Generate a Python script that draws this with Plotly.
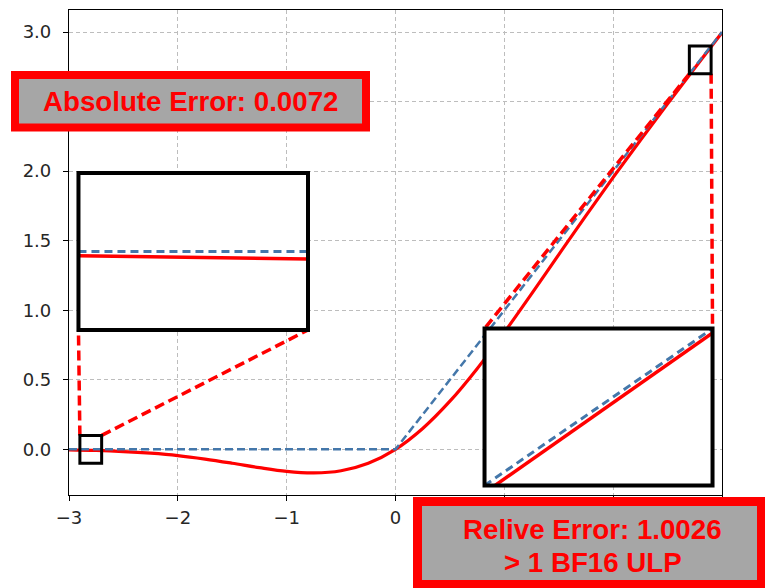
import plotly.graph_objects as go

# ---- data -------------------------------------------------------------
# GELU (red) sampled over [-3, 3]
x_gelu = [-3.0, -2.75, -2.5, -2.25, -2.0, -1.75, -1.5, -1.25, -1.0, -0.75, -0.5, -0.25,
          0.0, 0.25, 0.5, 0.75, 1.0, 1.25, 1.5, 1.75, 2.0, 2.25, 2.5, 2.75, 3.0]
y_gelu = [-0.004, -0.008, -0.016, -0.028, -0.045, -0.070, -0.100, -0.132, -0.159, -0.170,
          -0.154, -0.100, 0.0, 0.150, 0.346, 0.580, 0.841, 1.118, 1.400, 1.680, 1.955,
          2.222, 2.484, 2.742, 2.996]
# ReLU (blue dashed)
x_relu = [-3.0, 0.0, 3.0]
y_relu = [0.0, 0.0, 3.0]

# zoomed window near x = -2.8
zoom_left_x = [-2.9, -2.8, -2.7]
zoom_left_gelu = [-0.0054, -0.0072, -0.0094]
zoom_left_relu = [0.0, 0.0, 0.0]
# zoomed window near x = 2.8
zoom_right_x = [2.7, 2.8, 2.9]
zoom_right_gelu = [2.6906, 2.7928, 2.8946]
zoom_right_relu = [2.7, 2.8, 2.9]

# tick positions; labels sitting under the callout boxes are left blank
x_ticks = [-3, -2, -1, 0, 1, 2, 3]
x_tick_text = ["\u22123", "\u22122", "\u22121", "0", "", "", ""]
y_ticks = [0.0, 0.5, 1.0, 1.5, 2.0, 2.5, 3.0]
y_tick_text = ["0.0", "0.5", "1.0", "1.5", "2.0", "", "3.0"]

abs_label = "Absolute Error: 0.0072"
rel_label_1 = "Relive Error: 1.0026"
rel_label_2 = "> 1 BF16 ULP"

# ---- layout constants ---------------------------------------------------
W, H = 765, 588
ML, MR, MT, MB = 69, 43, 10, 93
X_RANGE = [-3.0, 3.0]
Y_RANGE = [-0.3285, 3.1585]

# zoom windows (data coords) and where their insets sit (main data coords)
win_left = dict(x=(-2.9, -2.7), y=(-0.1, 0.1))
win_right = dict(x=(2.7, 2.9), y=(2.7, 2.9))
inset_left = dict(x=(-2.913, -0.804), y=(0.858, 1.986))
inset_right = dict(x=(0.818, 2.913), y=(-0.26, 0.868))

RED = "#ff0000"
BLUE = "#4477aa"


def to_dom_x(v):
    return (v - X_RANGE[0]) / (X_RANGE[1] - X_RANGE[0])


def to_dom_y(v):
    return (v - Y_RANGE[0]) / (Y_RANGE[1] - Y_RANGE[0])


def px_x(p):
    return (p - ML) / (W - ML - MR)


def px_y(p):
    return (H - MB - p) / (H - MT - MB)


fig = go.Figure()

# main curves
fig.add_trace(go.Scatter(x=x_gelu, y=y_gelu, mode="lines", line=dict(color=RED, width=3.2, shape="spline"),
                         xaxis="x", yaxis="y", showlegend=False, hoverinfo="skip"))
fig.add_trace(go.Scatter(x=x_relu, y=y_relu, mode="lines", line=dict(color=BLUE, width=2.5, dash="8px,4px"),
                         xaxis="x", yaxis="y", showlegend=False, hoverinfo="skip"))

# inset curves
fig.add_trace(go.Scatter(x=zoom_left_x, y=zoom_left_gelu, mode="lines", line=dict(color=RED, width=3.5),
                         xaxis="x2", yaxis="y2", showlegend=False, hoverinfo="skip"))
fig.add_trace(go.Scatter(x=zoom_left_x, y=zoom_left_relu, mode="lines", line=dict(color=BLUE, width=3, dash="8px,5px"),
                         xaxis="x2", yaxis="y2", showlegend=False, hoverinfo="skip"))
fig.add_trace(go.Scatter(x=zoom_right_x, y=zoom_right_gelu, mode="lines", line=dict(color=RED, width=3.5),
                         xaxis="x3", yaxis="y3", showlegend=False, hoverinfo="skip"))
fig.add_trace(go.Scatter(x=zoom_right_x, y=zoom_right_relu, mode="lines", line=dict(color=BLUE, width=3, dash="8px,5px"),
                         xaxis="x3", yaxis="y3", showlegend=False, hoverinfo="skip"))

tick_font = dict(family="DejaVu Sans", size=18, color="#262626")
grid = dict(showgrid=True, gridcolor="#bdbdbd", gridwidth=1, griddash="4px,3px", zeroline=False,
            showline=True, linecolor="black", linewidth=1.2, mirror=True,
            ticks="outside", ticklen=5, tickwidth=1.2, tickcolor="black", tickfont=tick_font)

hidden = dict(showgrid=False, zeroline=False, showline=False, showticklabels=False, ticks="")

fig.update_layout(
    width=W, height=H, margin=dict(l=ML, r=MR, t=MT, b=MB),
    paper_bgcolor="white", plot_bgcolor="white", hovermode=False,
    xaxis=dict(range=X_RANGE, tickvals=x_ticks, ticktext=x_tick_text, domain=[0, 1], anchor="y",
               ticklabelstandoff=1, **grid),
    yaxis=dict(range=Y_RANGE, tickvals=y_ticks, ticktext=y_tick_text, domain=[0, 1], anchor="x",
               ticklabelstandoff=8, **grid),
    xaxis2=dict(range=list(win_left["x"]), anchor="y2",
                domain=[to_dom_x(inset_left["x"][0]), to_dom_x(inset_left["x"][1])], **hidden),
    yaxis2=dict(range=list(win_left["y"]), anchor="x2",
                domain=[to_dom_y(inset_left["y"][0]), to_dom_y(inset_left["y"][1])], **hidden),
    xaxis3=dict(range=list(win_right["x"]), anchor="y3",
                domain=[to_dom_x(inset_right["x"][0]), to_dom_x(inset_right["x"][1])], **hidden),
    yaxis3=dict(range=list(win_right["y"]), anchor="x3",
                domain=[to_dom_y(inset_right["y"][0]), to_dom_y(inset_right["y"][1])], **hidden),
)

shapes = []
# white backing of each inset, drawn in the inset's own subplot layer
for ax, win in (("2", win_left), ("3", win_right)):
    shapes.append(dict(type="rect", xref="x" + ax, yref="y" + ax, layer="below",
                       x0=win["x"][0], x1=win["x"][1], y0=win["y"][0], y1=win["y"][1],
                       fillcolor="white", line=dict(width=0)))

# connectors from the zoom windows to their insets
conn = dict(color=RED, width=3.5, dash="10px,5px")
lw, li = win_left, inset_left
shapes.append(dict(type="line", xref="x", yref="y", layer="above",
                   x0=lw["x"][0], y0=lw["y"][1], x1=li["x"][0], y1=li["y"][0], line=conn))
shapes.append(dict(type="line", xref="x", yref="y", layer="above",
                   x0=lw["x"][1], y0=lw["y"][1], x1=li["x"][1], y1=li["y"][0], line=conn))
rw, ri = win_right, inset_right
shapes.append(dict(type="line", xref="x", yref="y", layer="above",
                   x0=rw["x"][0], y0=rw["y"][0], x1=ri["x"][0], y1=ri["y"][1], line=conn))
shapes.append(dict(type="line", xref="x", yref="y", layer="above",
                   x0=rw["x"][1], y0=rw["y"][0], x1=ri["x"][1], y1=ri["y"][1], line=conn))

# inset frames and zoom-window squares
for box, width in ((inset_left, 4), (inset_right, 4), (win_left, 3), (win_right, 3)):
    shapes.append(dict(type="rect", xref="x", yref="y", layer="above",
                       x0=box["x"][0], x1=box["x"][1], y0=box["y"][0], y1=box["y"][1],
                       fillcolor="rgba(0,0,0,0)", line=dict(color="black", width=width)))

# callout boxes
shapes.append(dict(type="rect", xref="paper", yref="paper", layer="above",
                   x0=px_x(15), x1=px_x(366), y0=px_y(127.5), y1=px_y(75),
                   fillcolor="#a6a6a6", line=dict(color=RED, width=8)))
shapes.append(dict(type="rect", xref="paper", yref="paper", layer="above",
                   x0=px_x(417.5), x1=px_x(761.5), y0=px_y(584.5), y1=px_y(501.5),
                   fillcolor="#a6a6a6", line=dict(color=RED, width=9)))
fig.update_layout(shapes=shapes)

label_font = dict(family="Liberation Sans", size=27.7, color=RED)
for text, px, py in ((abs_label, 190, 101), (rel_label_1, 592.5, 529), (rel_label_2, 592.5, 562.5)):
    fig.add_annotation(text="<b>" + text + "</b>", xref="paper", yref="paper",
                       x=px_x(px), y=px_y(py), xanchor="center", yanchor="middle",
                       showarrow=False, font=label_font)

fig.write_html("out.html", config={"displayModeBar": False})
